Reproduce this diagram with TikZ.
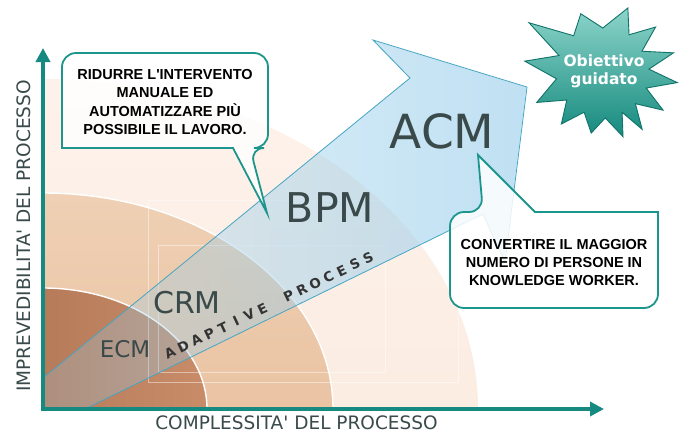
\documentclass[tikz,border=0pt]{standalone}
\usepackage{fontspec}
\setmainfont{DejaVu Sans}
\newfontfamily\lib{Liberation Sans}
\usetikzlibrary{arrows.meta,fadings}
\definecolor{teal1}{RGB}{22,138,128}
\definecolor{txtgray}{RGB}{58,74,74}
\definecolor{inner1}{RGB}{165,106,75}
\definecolor{inner2}{RGB}{200,140,105}
\definecolor{mid1}{RGB}{239,208,180}
\definecolor{mid2}{RGB}{228,182,146}
\definecolor{out1}{RGB}{250,231,218}
\definecolor{out2}{RGB}{253,242,235}
\definecolor{arrowfill}{RGB}{150,205,235}
\definecolor{arrowline}{RGB}{70,165,195}
\definecolor{calloutline}{RGB}{28,150,140}
\definecolor{star1}{RGB}{140,212,202}
\definecolor{star2}{RGB}{22,138,126}
\definecolor{starline}{RGB}{15,115,105}
\tikzfading[name=arrowfade, left color=transparent!75, right color=transparent!40]
\newcommand{\lsp}[1]{\makebox[14.64pt]{#1}}
\tikzset{
  band/.style={white,line width=1.4pt},
  bigtxt/.style={text=txtgray,inner sep=0pt},
  callout/.style={draw=calloutline,line width=1.8pt,fill=white,fill opacity=0.85},
  callouttxt/.style={text=black,align=center,inner sep=0pt,font=\lib\bfseries\fontsize{14.5}{18.3}\selectfont},
  axis/.style={teal1,line width=4.5pt,-{Triangle[length=14pt,width=14pt]}},
  axistxt/.style={text=txtgray,inner sep=0pt,font=\fontsize{18.5}{22}\selectfont},
  adapt/.style={inner sep=0pt,rotate=25.6,text=black!80,font=\bfseries\fontsize{13.5}{13.5}\selectfont},
  faint/.style={white,opacity=0.45,line width=0.7pt}
}
\begin{document}
\begin{tikzpicture}[x=1pt,y=-1pt]
\useasboundingbox (0,0) rectangle (679,432);
\fill[white] (0,0) rectangle (679,432);

% quarter bands
\begin{scope}
\clip (43,409) rectangle (679,0);
\shade[top color=out2,bottom color=out1] (43,409) ellipse [x radius=435pt,y radius=330pt];
\shade[top color=mid1,bottom color=mid2] (43,409) ellipse [x radius=290pt,y radius=216pt];
\draw[band] (43,409) ellipse [x radius=290pt,y radius=216pt];
\shade[left color=inner1,right color=inner2] (43,409) ellipse [x radius=164pt,y radius=121pt];
\draw[band] (43,409) ellipse [x radius=164pt,y radius=121pt];
\draw[faint] (148,200) rectangle (458,382);
\draw[faint] (158,245) rectangle (385,372);
\end{scope}

% big arrow
\fill[arrowfill,path fading=arrowfade] (43,378) -- (410,78) -- (373,40) -- (527,87) -- (505,262) -- (483,214) -- (85,409) -- (43,409) -- cycle;
\draw[arrowline,line width=0.8pt] (43,378) -- (410,78) -- (373,40) -- (527,87) -- (505,262) -- (483,214) -- (85,409);

% labels
\node[bigtxt,font=\fontsize{47}{47}\selectfont] (acm) at (442,131) {ACM};
\node[bigtxt,font=\fontsize{41}{41}\selectfont] (bpm) at (330,208) {BPM};
\node[bigtxt,font=\fontsize{30}{30}\selectfont] (crm) at (187,303) {CRM};
\node[bigtxt,font=\fontsize{23}{23}\selectfont] (ecm) at (125,349) {ECM};

% adaptive process
\node[adapt] (adaptive) at (269,305.5) {\lsp{A}\lsp{D}\lsp{A}\lsp{P}\lsp{T}\lsp{I}\lsp{V}\lsp{E}\makebox[14.64pt]{}\lsp{P}\lsp{R}\lsp{O}\lsp{C}\lsp{E}\lsp{S}\lsp{S}};

% callout 1
\draw[callout,rounded corners=14pt] (150,53) -- (268,53) -- (268,148) -- (250,148) [sharp corners] -- (267,213) -- (233,148) -- (62,148) [rounded corners=14pt] -- (62,53) -- cycle;
\node[callouttxt] (c1) at (165,102) {RIDURRE L\textquotesingle INTERVENTO\\MANUALE ED\\AUTOMATIZZARE PIÙ\\POSSIBILE IL LAVORO.};

% callout 2
\draw[callout,rounded corners=14pt] (554,308) -- (450,308) -- (450,212) -- (483,212) [sharp corners] -- (478,155) -- (535,212) -- (658,212) [rounded corners=14pt] -- (658,308) -- cycle;
\node[callouttxt] (c2) at (554,262.5) {CONVERTIRE IL MAGGIOR\\NUMERO DI PERSONE IN\\KNOWLEDGE WORKER.};

% star
\begin{scope}[shift={(602,72)}]
\shade[top color=star1,bottom color=star2,draw=starline,line width=0.9pt]
 (-146:88) -- (-128:46) -- (-110:62) -- (-89:44) -- (-68:69) -- (-54:46) -- (-40:70)
 -- (-27.5:45) -- (-15:74) -- (-3.5:47) -- (8:76) -- (20:47) -- (32:72) -- (43.5:46)
 -- (55:70) -- (63.5:45) -- (72:68) -- (86:46) -- (100:62) -- (114:44) -- (128:66)
 -- (141.5:45) -- (155:72) -- (171.5:46) -- (188:78) -- (-159:46) -- cycle;
\end{scope}
\node[text=white,align=center,inner sep=0pt,font=\bfseries\fontsize{15.5}{18}\selectfont] (goal) at (604,71) {Obiettivo\\guidato};

% axes
\draw[axis] (43,411) -- (43,48);
\draw[axis] (41,409) -- (604,409);
\node[axistxt,rotate=90] (ylab) at (24,236) {IMPREVEDIBILITA\textquotesingle{} DEL PROCESSO};
\node[axistxt,anchor=base] (xlab) at (296.5,429) {COMPLESSITA\textquotesingle{} DEL PROCESSO};
\end{tikzpicture}
\end{document}
